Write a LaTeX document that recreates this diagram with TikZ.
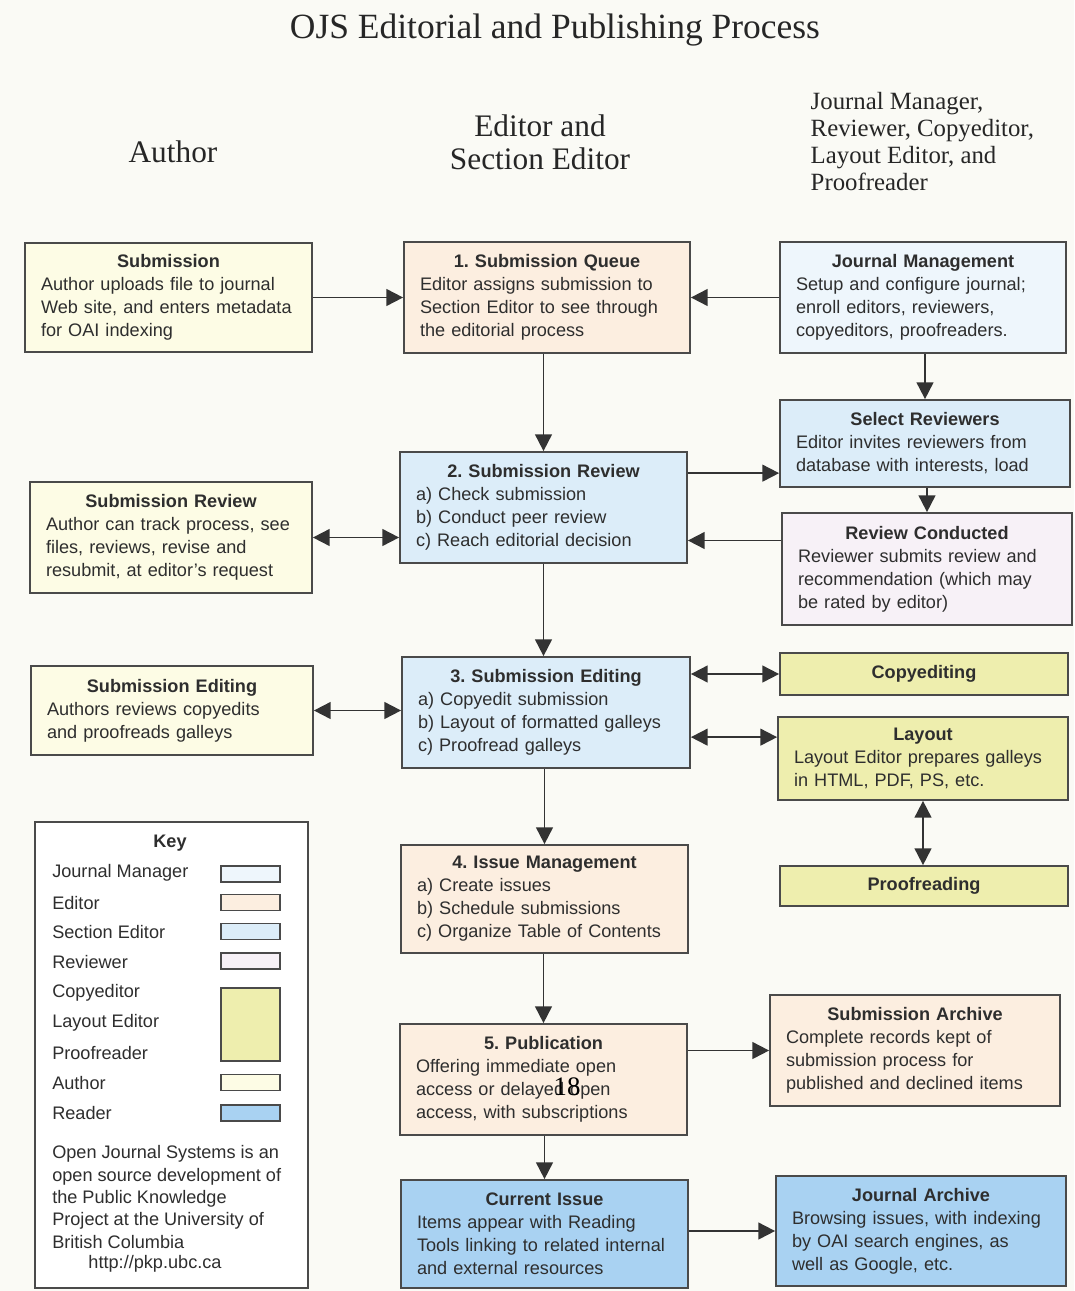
\documentclass[tikz,border=0pt]{standalone}
\usepackage{fontspec}
\setmainfont{Liberation Sans}
\newfontfamily\headfont{Liberation Serif}
\usetikzlibrary{arrows.meta}
\definecolor{bgc}{HTML}{FAFAF5}
\definecolor{authorc}{HTML}{FDFCE5}
\definecolor{editorc}{HTML}{FCEEE0}
\definecolor{sectc}{HTML}{DCEDF9}
\definecolor{jmc}{HTML}{EEF6FC}
\definecolor{revc}{HTML}{F7F1F7}
\definecolor{copyc}{HTML}{EEEEAE}
\definecolor{readerc}{HTML}{A9D2F2}
\definecolor{boxline}{HTML}{4A4A4A}
\definecolor{arr}{HTML}{333333}
\definecolor{txt}{HTML}{2E2E2E}
\newcommand\boxtitle[1]{\hfill\textbf{#1}\hfill\null\\}
\frenchspacing
\begin{document}
\frenchspacing
\begin{tikzpicture}[x=0.75pt,y=-0.75pt,
  box/.style={draw=boxline, line width=1.3pt, rectangle, inner xsep=12pt, inner ysep=0pt,
    align=left, font=\fontsize{13.6}{17.25}\selectfont\frenchspacing, text=txt},
  w282/.style={minimum width=211.5pt, text width=187.5pt},
  w286/.style={minimum width=214.5pt, text width=190.5pt},
  w287/.style={minimum width=215.25pt, text width=191.25pt},
  w288/.style={minimum width=216pt, text width=192pt},
  w290/.style={minimum width=217.5pt, text width=193.5pt},
  onebox/.style={draw=boxline, line width=1.3pt, rectangle, inner sep=0pt, align=center,
    font=\fontsize{13.6}{17.25}\selectfont\bfseries, text=txt},
  head/.style={font=\headfont\fontsize{23.5}{25}\selectfont, text=black!85, align=center},
  keylab/.style={inner sep=0pt, font=\fontsize{13.6}{16.7}\selectfont, text=txt, align=left},
  swatch/.style={draw=boxline, line width=1.3pt, minimum width=44.25pt, minimum height=12pt, inner sep=0pt},
  conn/.style={draw=arr, line width=1.4pt, -{Triangle[length=12.5pt,width=12.5pt]}},
  conn2/.style={draw=arr, line width=1.4pt, {Triangle[length=12.5pt,width=12.5pt]}-{Triangle[length=12.5pt,width=12.5pt]}},
]
\fill[bgc] (0,0) rectangle (1074,1291);
\useasboundingbox (0,0) rectangle (1074,1291);

% headings
\node[head, font=\headfont\fontsize{26.6}{28}\selectfont] (title) at (555,30) {OJS Editorial and Publishing Process};
\node[head] (hauthor) at (173,152) {Author};
\node[head] (heditor) at (540,142) {Editor and\\Section Editor};
\node[head, font=\headfont\fontsize{18.6}{20.25}\selectfont, align=left, anchor=west] (hother) at (806,142)
  {Journal Manager,\\Reviewer, Copyeditor,\\Layout Editor, and\\Proofreader};

% author column
\node[box, fill=authorc, w287, minimum height=81.75pt] (subm) at (168.5,297.5)
  {\boxtitle{Submission}Author uploads file to journal\\Web site, and enters metadata\\for OAI indexing};
\node[box, fill=authorc, w282, minimum height=83.25pt] (asr) at (171,537.5)
  {\boxtitle{Submission Review}Author can track process, see\\files, reviews, revise and\\resubmit, at editor's request};
\node[box, fill=authorc, w282, minimum height=66.75pt] (ased) at (172,710.5)
  {\boxtitle{Submission Editing}Authors reviews copyedits\\and proofreads galleys};

% editor column
\node[box, fill=editorc, w286, minimum height=83.25pt] (q1) at (547,297.5)
  {\boxtitle{1. Submission Queue}Editor assigns submission to\\Section Editor to see through\\the editorial process};
\node[box, fill=sectc, w287, minimum height=83.25pt] (r2) at (543.5,507.5)
  {\boxtitle{2. Submission Review}a) Check submission\\b) Conduct peer review\\c) Reach editorial decision};
\node[box, fill=sectc, w288, minimum height=83.25pt] (e3) at (546,712.5)
  {\boxtitle{3. Submission Editing}a) Copyedit submission\\b) Layout of formatted galleys\\c) Proofread galleys};
\node[box, fill=editorc, w287, minimum height=81pt] (i4) at (544.5,899)
  {\boxtitle{4. Issue Management}a) Create issues\\b) Schedule submissions\\c) Organize Table of Contents};
\node[box, fill=editorc, w287, minimum height=83.25pt] (p5) at (543.5,1079.5)
  {\boxtitle{5. Publication}Offering immediate open\\access or delayed open\\access, with subscriptions};
\node[box, fill=readerc, w287, minimum height=81pt] (ci) at (544.5,1234)
  {\boxtitle{Current Issue}Items appear with Reading\\Tools linking to related internal\\and external resources};

% right column
\node[box, fill=jmc, w286, minimum height=83.25pt] (jm) at (923,297.5)
  {\boxtitle{Journal Management}Setup and configure journal;\\enroll editors, reviewers,\\copyeditors, proofreaders.};
\node[box, fill=sectc, w290, minimum height=65.25pt] (sr) at (925,443.5)
  {\boxtitle{Select Reviewers}Editor invites reviewers from\\database with interests, load};
\node[box, fill=revc, w290, minimum height=84pt] (rc) at (927,569)
  {\boxtitle{Review Conducted}Reviewer submits review and\\recommendation (which may\\be rated by editor)};
\node[onebox, fill=copyc, minimum width=216pt, minimum height=31.5pt] (ce) at (924,674) {Copyediting};
\node[box, fill=copyc, w290, minimum height=62.25pt] (lay) at (923,758.5)
  {\boxtitle{Layout}Layout Editor prepares galleys\\in HTML, PDF, PS, etc.};
\node[onebox, fill=copyc, minimum width=216pt, minimum height=30pt] (pr) at (924,886) {Proofreading};
\node[box, fill=editorc, w290, minimum height=83.25pt] (sa) at (915,1050.5)
  {\boxtitle{Submission Archive}Complete records kept of\\submission process for\\published and declined items};
\node[box, fill=readerc, w290, minimum height=82.5pt] (ja) at (921,1231)
  {\boxtitle{Journal Archive}Browsing issues, with indexing\\by OAI search engines, as\\well as Google, etc.};

% key
\node[draw=boxline, line width=1.3pt, fill=white, minimum width=204.75pt, minimum height=349.5pt, inner sep=0pt] (key) at (171.5,1055) {};
\node[keylab, font=\fontsize{13.6}{16.7}\selectfont\bfseries] (keyt) at (170,843) {Key};
\node[keylab, anchor=west] (kjm) at (52,873) {Journal Manager};
\node[keylab, anchor=west] (ked) at (52,903) {Editor};
\node[keylab, anchor=west] (kse) at (52,932) {Section Editor};
\node[keylab, anchor=west] (krv) at (52,962) {Reviewer};
\node[keylab, anchor=west] (kce) at (52,993) {Copyeditor};
\node[keylab, anchor=west] (kle) at (52,1023) {Layout Editor};
\node[keylab, anchor=west] (kpr) at (52,1053) {Proofreader};
\node[keylab, anchor=west] (kau) at (52,1083) {Author};
\node[keylab, anchor=west] (krd) at (52,1113) {Reader};
\node[swatch, fill=jmc] (sjm) at (250.5,874) {};
\node[swatch, fill=editorc] (sed) at (250.5,902.5) {};
\node[swatch, fill=sectc] (sse) at (250.5,931.5) {};
\node[swatch, fill=revc] (srv) at (250.5,961) {};
\node[swatch, fill=copyc, minimum height=54.75pt] (scp) at (250.5,1024.5) {};
\node[swatch, fill=authorc] (sau) at (250.5,1082.5) {};
\node[swatch, fill=readerc] (srd) at (250.5,1113) {};
\node[keylab, anchor=west] (kpar) at (52,1197)
  {Open Journal Systems is an\\open source development of\\the Public Knowledge\\Project at the University of\\British Columbia};
\node[keylab] (kurl) at (155,1264) {http://pkp.ubc.ca};

% page number overlay (printed over the Publication box in the reference)
\node[font=\headfont\fontsize{20}{22}\selectfont, text=black, inner sep=0pt] (pgno) at (567,1087) {18};

% connectors
\draw[conn] (subm.east) -- (q1.west);
\draw[conn] (jm.west) -- (q1.east);
\draw[conn] (r2.north |- q1.south) -- (r2.north);
\coordinate (rA) at ([yshift=-16.5pt]r2.north east);
\draw[conn] (rA) -- (rA -| sr.west);
\draw[conn] (sr.north |- jm.south) -- (sr.north);
\draw[conn] (rc.north |- sr.south) -- (rc.north);
\coordinate (rB) at ([yshift=-24.75pt]r2.east);
\draw[conn] (rB -| rc.west) -- (rB);
\draw[conn2] (asr.east) -- (asr.east -| r2.west);
\draw[conn] (r2.south) -- (r2.south |- e3.north);
\draw[conn2] (ased.east) -- (ased.east -| e3.west);
\draw[conn2] (ce.west -| e3.east) -- (ce.west);
\coordinate (lA) at ([yshift=-15.75pt]lay.north west);
\draw[conn2] (lA -| e3.east) -- (lA);
\draw[conn2] (lay.south) -- (lay.south |- pr.north);
\draw[conn] (i4.north |- e3.south) -- (i4.north);
\draw[conn] (p5.north |- i4.south) -- (p5.north);
\draw[conn] (sa.west -| p5.east) -- (sa.west);
\draw[conn] (ci.north |- p5.south) -- (ci.north);
\draw[conn] (ja.west -| ci.east) -- (ja.west);
\end{tikzpicture}
\end{document}
